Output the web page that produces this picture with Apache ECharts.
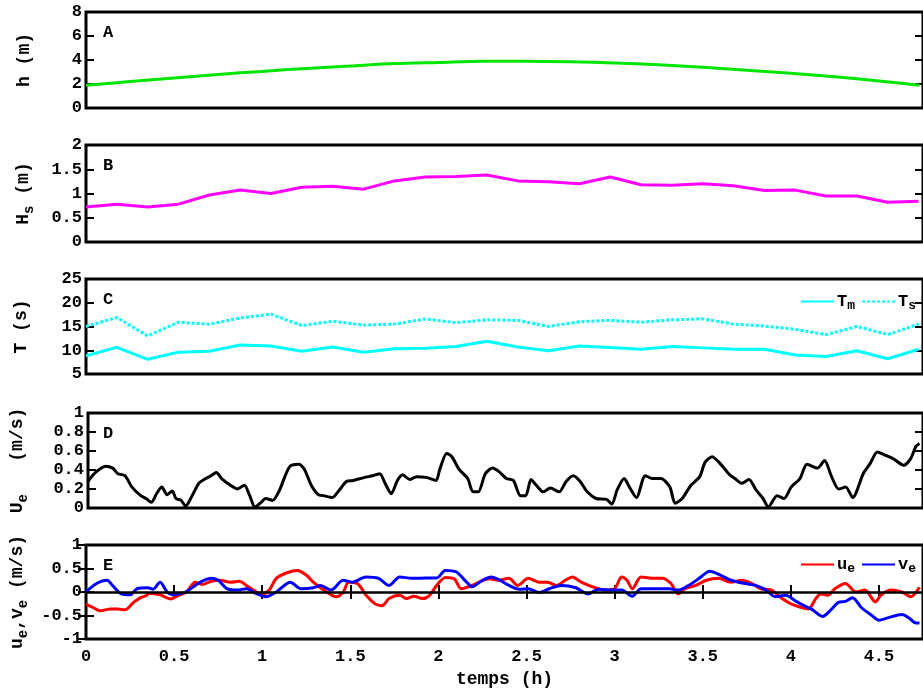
<!DOCTYPE html>
<html><head><meta charset="utf-8">
<script src="https://cdn.jsdelivr.net/npm/echarts@6/dist/echarts.min.js"></script>
<style>html,body{margin:0;padding:0;background:#fff}#c{width:923px;height:692px}</style>
</head><body><div id="c"></div>
<script>
// ---- Data ----
const hT = [0,0.25,0.5,0.75,1.0,1.25,1.5,1.75,2.0,2.25,2.5,2.75,3.0,3.25,3.5,3.75,4.0,4.25,4.5,4.73];
const hV = [1.9,2.2,2.5,2.8,3.05,3.3,3.5,3.7,3.8,3.9,3.9,3.85,3.75,3.6,3.4,3.15,2.9,2.6,2.25,1.9];

const waveT = [0,0.175,0.35,0.525,0.7,0.875,1.05,1.225,1.4,1.575,1.75,1.925,2.1,2.275,2.45,2.625,2.8,2.975,3.15,3.325,3.5,3.675,3.85,4.025,4.2,4.375,4.55,4.725];
const HsV = [0.72,0.78,0.72,0.78,0.97,1.07,1.0,1.13,1.15,1.09,1.26,1.34,1.35,1.38,1.26,1.24,1.2,1.34,1.18,1.17,1.2,1.16,1.06,1.07,0.95,0.95,0.82,0.84];
const TmV = [8.85,10.6,8.1,9.6,9.8,11.1,10.9,9.8,10.7,9.6,10.3,10.4,10.8,11.9,10.7,9.9,10.9,10.6,10.2,10.8,10.5,10.2,10.2,9.0,8.7,9.9,8.2,10.2];
const TsV = [15.0,16.9,13.0,15.9,15.5,16.8,17.6,15.2,16.1,15.3,15.5,16.6,15.8,16.4,16.3,15.0,16.0,16.3,15.9,16.4,16.6,15.5,15.1,14.4,13.3,15.0,13.3,15.5];

const UeT = [0,0.04,0.10,0.14,0.17,0.21,0.25,0.30,0.33,0.36,0.39,0.42,0.45,0.48,0.50,0.53,0.555,0.59,0.63,0.66,0.70,0.73,0.76,0.81,0.85,0.89,0.92,0.95,0.985,1.01,1.05,1.09,1.12,1.15,1.20,1.23,1.27,1.31,1.34,1.39,1.43,1.47,1.51,1.57,1.62,1.66,1.69,1.725,1.76,1.79,1.83,1.87,1.93,1.98,2.0,2.04,2.07,2.11,2.16,2.19,2.22,2.26,2.30,2.34,2.38,2.42,2.46,2.49,2.52,2.55,2.59,2.63,2.68,2.72,2.76,2.80,2.84,2.89,2.95,2.98,3.01,3.05,3.08,3.12,3.17,3.21,3.26,3.31,3.34,3.38,3.43,3.48,3.51,3.55,3.59,3.65,3.68,3.72,3.76,3.80,3.84,3.87,3.92,3.96,4.0,4.05,4.09,4.15,4.19,4.23,4.27,4.31,4.35,4.41,4.45,4.49,4.53,4.58,4.64,4.68,4.71,4.73];
const UeV = [0.28,0.37,0.44,0.42,0.36,0.34,0.22,0.13,0.10,0.06,0.15,0.22,0.14,0.18,0.10,0.08,0.02,0.12,0.26,0.30,0.34,0.375,0.31,0.24,0.20,0.24,0.13,0.01,0.06,0.10,0.08,0.19,0.33,0.44,0.46,0.41,0.24,0.14,0.13,0.11,0.19,0.28,0.29,0.32,0.34,0.36,0.26,0.15,0.29,0.35,0.30,0.33,0.32,0.29,0.40,0.575,0.54,0.41,0.31,0.17,0.17,0.36,0.42,0.38,0.31,0.29,0.13,0.13,0.30,0.24,0.17,0.21,0.17,0.28,0.34,0.28,0.17,0.10,0.09,0.04,0.19,0.31,0.22,0.11,0.34,0.31,0.31,0.22,0.05,0.10,0.24,0.33,0.48,0.54,0.48,0.35,0.31,0.26,0.30,0.19,0.10,0.01,0.13,0.10,0.22,0.31,0.46,0.42,0.50,0.33,0.20,0.22,0.11,0.36,0.47,0.59,0.56,0.52,0.45,0.52,0.65,0.68];

const uT = [0.00,0.04,0.08,0.14,0.18,0.22,0.27,0.31,0.34,0.36,0.42,0.48,0.52,0.57,0.62,0.66,0.71,0.76,0.82,0.87,0.91,0.95,1.00,1.04,1.08,1.14,1.20,1.25,1.29,1.33,1.37,1.42,1.46,1.49,1.54,1.59,1.64,1.68,1.72,1.78,1.82,1.86,1.91,1.95,1.99,2.04,2.09,2.13,2.19,2.23,2.29,2.34,2.40,2.45,2.51,2.57,2.62,2.67,2.72,2.76,2.81,2.89,2.95,3.00,3.04,3.07,3.10,3.15,3.21,3.27,3.32,3.36,3.40,3.46,3.52,3.59,3.66,3.72,3.78,3.83,3.89,3.95,4.00,4.06,4.10,4.14,4.17,4.21,4.25,4.31,4.37,4.42,4.48,4.51,4.57,4.63,4.68,4.73];
const uV = [-0.26,-0.33,-0.40,-0.36,-0.36,-0.38,-0.22,-0.12,-0.08,-0.03,-0.06,-0.15,-0.08,0.00,0.21,0.16,0.23,0.25,0.21,0.23,0.14,0.04,-0.04,0.04,0.29,0.41,0.46,0.36,0.21,0.09,-0.01,-0.10,0.00,0.21,0.18,-0.07,-0.25,-0.29,-0.14,-0.07,-0.14,-0.09,-0.14,-0.07,0.14,0.31,0.28,0.07,0.14,0.21,0.28,0.25,0.29,0.14,0.29,0.21,0.21,0.14,0.25,0.32,0.21,0.09,0.04,0.07,0.32,0.25,0.07,0.32,0.29,0.29,0.18,-0.04,0.07,0.14,0.25,0.29,0.21,0.25,0.18,0.07,0.04,-0.14,-0.25,-0.33,-0.36,-0.15,-0.04,-0.07,0.07,0.18,0.00,0.04,-0.21,-0.07,0.04,0.00,-0.10,0.10];

const vT = [0.00,0.06,0.12,0.15,0.20,0.25,0.29,0.35,0.38,0.42,0.46,0.49,0.53,0.57,0.62,0.66,0.71,0.75,0.80,0.86,0.91,0.97,1.02,1.08,1.16,1.22,1.29,1.33,1.39,1.46,1.51,1.59,1.66,1.72,1.78,1.85,1.93,1.99,2.04,2.10,2.16,2.19,2.25,2.30,2.34,2.40,2.46,2.51,2.57,2.63,2.70,2.78,2.85,2.91,2.98,3.04,3.10,3.15,3.23,3.31,3.36,3.42,3.48,3.54,3.60,3.66,3.74,3.80,3.86,3.91,3.97,4.03,4.07,4.12,4.18,4.23,4.27,4.31,4.35,4.40,4.46,4.50,4.55,4.63,4.67,4.71,4.73];
const vV = [0.00,0.18,0.25,0.14,-0.04,-0.06,0.07,0.09,0.06,0.21,0.00,-0.06,-0.04,0.01,0.14,0.23,0.29,0.25,0.07,0.04,0.07,-0.04,-0.10,0.00,0.21,0.07,0.09,0.14,0.04,0.25,0.21,0.32,0.29,0.14,0.32,0.29,0.30,0.30,0.46,0.43,0.21,0.11,0.25,0.32,0.27,0.14,0.06,0.07,-0.01,0.07,0.14,0.09,-0.04,0.06,0.04,0.04,-0.09,0.07,0.07,0.07,0.04,0.14,0.29,0.44,0.36,0.25,0.18,0.14,0.04,-0.10,-0.07,-0.20,-0.28,-0.37,-0.52,-0.37,-0.22,-0.20,-0.12,-0.33,-0.50,-0.60,-0.55,-0.48,-0.55,-0.66,-0.66];

const xTicks = {min: 0, max: 4.75, interval: 0.5};
const panelLabels = ['A','B','C','D','E'];
const yRanges = [[0,8,2],[0,2,0.5],[5,25,5],[0,1,0.2],[-1,1,0.5]];
const yNames = [
  'h (m)',
  '{n|H}{s|s}{n| (m)}',
  'T (s)',
  '{n|U}{s|e}{n|   (m/s)}',
  '{n|u}{s|e}{n|,v}{s|e}{n| (m/s)}'
];

// ---- Layout ----
const FONT = 'Liberation Mono';
const tops = [12,145,279,413,545];
const heights = [96,97,95,95,94];
const nameGaps = [53,50,56,58,56];
const pair = (t, v) => t.map((x, i) => [x, v[i]]);

const grid = tops.map((t, i) => ({left: 86, right: -3, top: t, height: heights[i], show: true, borderColor: '#000', borderWidth: 3, backgroundColor: 'transparent'}));

const rich = {
  n: {fontFamily: FONT, fontWeight: 'bold', fontSize: 18, color: '#000', lineHeight: 26},
  s: {fontFamily: FONT, fontWeight: 'bold', fontSize: 14, color: '#000', lineHeight: 12, verticalAlign: 'bottom'}
};

const xAxis = [];
for (let i = 0; i < 5; i++) {
  xAxis.push({
    gridIndex: i, type: 'value', min: xTicks.min, max: xTicks.max, interval: xTicks.interval,
    axisLine: {show: false}, splitLine: {show: false},
    axisTick: {show: i === 4, inside: true, length: 7, lineStyle: {color: '#000', width: 2}},
    axisLabel: {show: i === 4, showMaxLabel: false, margin: 9, color: '#000', fontFamily: FONT, fontWeight: 'bold', fontSize: 17},
    name: i === 4 ? 'temps (h)' : '', nameLocation: 'middle', nameGap: 31,
    nameTextStyle: {color: '#000', fontFamily: FONT, fontWeight: 'bold', fontSize: 18}
  });
}
xAxis.push({
  gridIndex: 4, type: 'value', position: 'top', min: xTicks.min, max: xTicks.max, interval: xTicks.interval,
  axisLine: {show: false}, splitLine: {show: false}, axisLabel: {show: false},
  axisTick: {show: true, inside: true, length: 7, lineStyle: {color: '#000', width: 2}}
});

const yAxis = [];
for (let i = 0; i < 5; i++) {
  const r = yRanges[i];
  yAxis.push({
    gridIndex: i, type: 'value', min: r[0], max: r[1], interval: r[2],
    axisLine: {show: false}, splitLine: {show: false},
    axisTick: {show: true, inside: true, length: 8, lineStyle: {color: '#000', width: 2}},
    axisLabel: {margin: 4, color: '#000', fontFamily: FONT, fontWeight: 'bold', fontSize: 17},
    name: yNames[i], nameLocation: 'middle', nameGap: nameGaps[i],
    nameTextStyle: {color: '#000', fontFamily: FONT, fontWeight: 'bold', fontSize: 18, rich: rich}
  });
  yAxis.push({
    gridIndex: i, type: 'value', position: 'right', min: r[0], max: r[1], interval: r[2],
    axisLine: {show: false}, splitLine: {show: false}, axisLabel: {show: false},
    axisTick: {show: true, inside: true, length: 8, lineStyle: {color: '#000', width: 2}}
  });
}

const line = (name, xi, yi, data, color, extra) => Object.assign({
  name, type: 'line', xAxisIndex: xi, yAxisIndex: yi, data, showSymbol: false, symbol: 'none',
  lineStyle: {color, width: 3}, itemStyle: {color}, animation: false
}, extra || {});

const series = [
  line('h', 0, 0, pair(hT, hV), '#00e600', {smooth: 0.3}),
  line('Hs', 1, 2, pair(waveT, HsV), '#ff00ff'),
  line('Tm', 2, 4, pair(waveT, TmV), '#00ffff'),
  line('Ts', 2, 4, pair(waveT, TsV), '#00ffff', {lineStyle: {color: '#00ffff', width: 3, type: [3, 2]}}),
  line('Ue', 3, 6, pair(UeT, UeV), '#000000', {smooth: 0.25}),
  line('ue', 4, 8, pair(uT, uV), '#ff0000', {smooth: 0.3}),
  line('ve', 4, 8, pair(vT, vV), '#0000ff', {smooth: 0.3, markLine: {
    silent: true, symbol: 'none', label: {show: false}, animation: false,
    lineStyle: {color: '#000', width: 2.5, type: 'solid'}, data: [{yAxis: 0}]
  }})
];

const legRich = {
  b: {fontFamily: FONT, fontWeight: 'bold', fontSize: 17, color: '#000', lineHeight: 22},
  s: {fontFamily: FONT, fontWeight: 'bold', fontSize: 13, color: '#000', lineHeight: 12, verticalAlign: 'bottom'}
};
const legendFmt = {Tm: '{b|T}{s|m}', Ts: '{b|T}{s|s}', ue: '{b|u}{s|e}', ve: '{b|v}{s|e}'};
const legendBase = {orient: 'horizontal', width: 200, padding: 0, itemWidth: 33, itemHeight: 12, itemGap: 6,
  itemStyle: {opacity: 0}, formatter: n => legendFmt[n], textStyle: {rich: legRich, padding: [0, 0, 0, -2]}};

const option = {
  animation: false,
  backgroundColor: '#fff',
  grid, xAxis, yAxis, series,
  legend: [
    Object.assign({data: ['Tm', 'Ts'], left: 800, top: 293}, legendBase),
    Object.assign({data: ['ue', 've'], left: 800, top: 556}, legendBase)
  ],
  graphic: panelLabels.map((l, i) => ({
    type: 'text', left: 103, top: tops[i] + 12,
    style: {text: l, fill: '#000', font: 'bold 17px "Liberation Mono"'}
  }))
};

const chart = echarts.init(document.getElementById('c'), null, {renderer: 'canvas'});
chart.setOption(option);
</script>
</body></html>
